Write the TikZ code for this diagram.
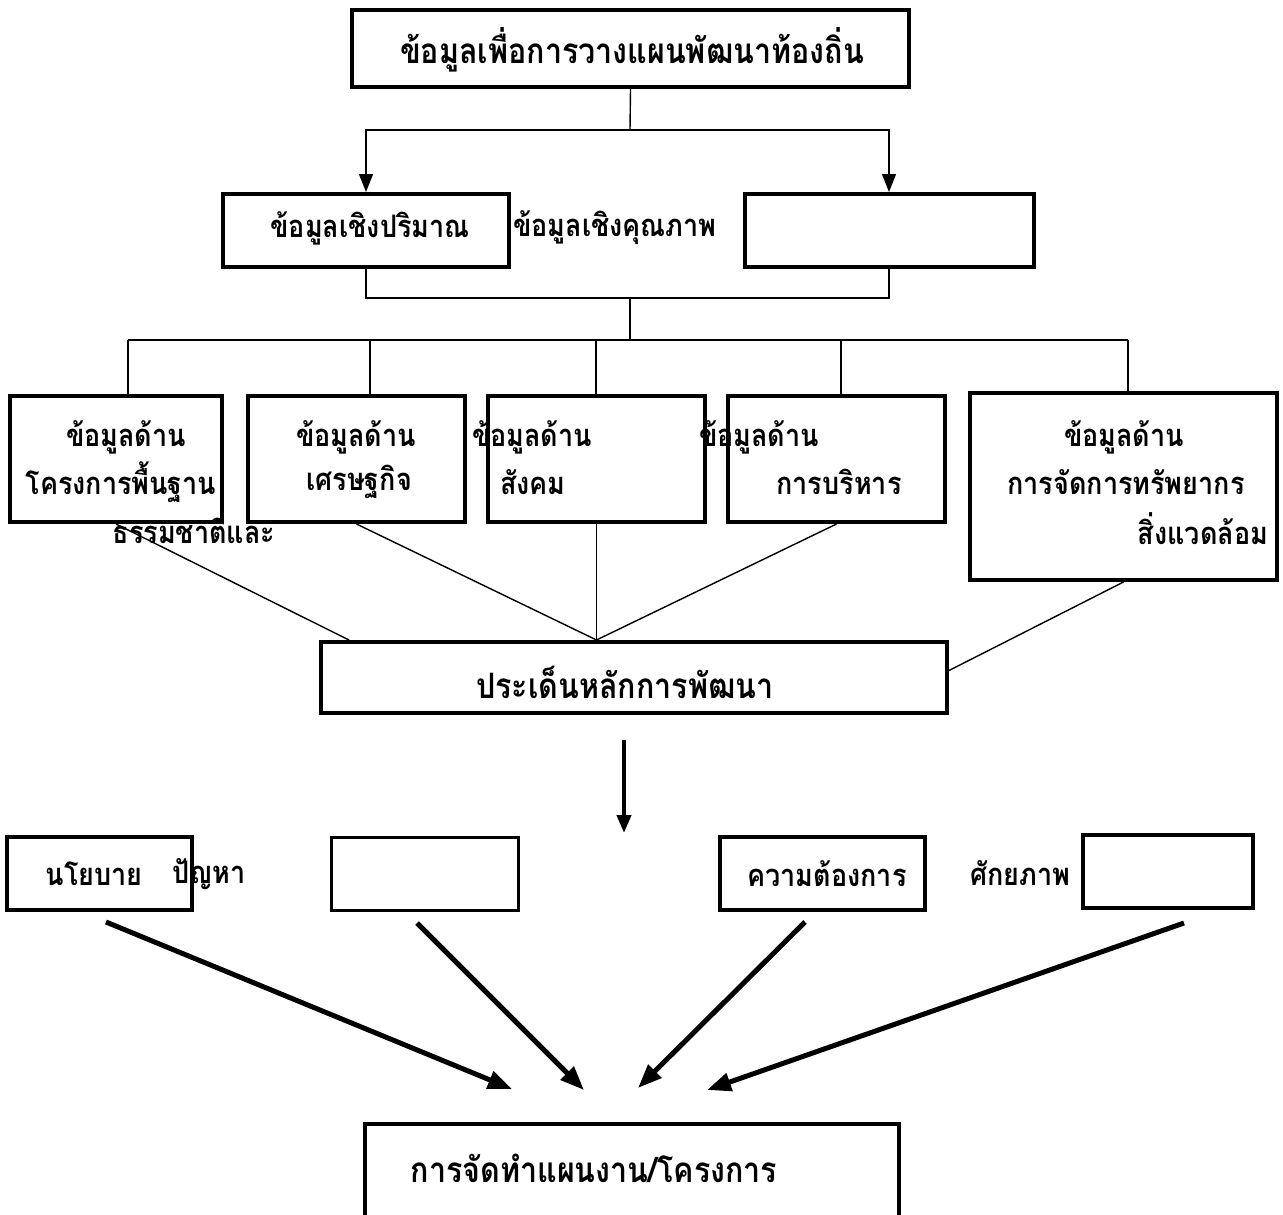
\documentclass[tikz,border=0pt]{standalone}
\usepackage{fontspec}
\newfontfamily\thaifont[Script=Thai, FakeStretch=0.87]{Loma}
\usetikzlibrary{arrows.meta}
\begin{document}
\begin{tikzpicture}[x=1pt,y=-1pt,
  box/.style={draw, line width=4pt, inner sep=0pt},
  thinline/.style={line width=1.4pt},
  thickarrow/.style={line width=5pt, -{Triangle[length=24pt,width=18pt]}},
  toparrow/.style={line width=1.4pt, -{Triangle[length=18pt,width=14pt]}},
  lbl/.style={font=\thaifont\bfseries\fontsize{31}{36}\selectfont, inner sep=0pt},
  biglbl/.style={font=\thaifont\bfseries\fontsize{35}{40}\selectfont, inner sep=0pt},
]
\useasboundingbox (0,0) rectangle (1283,1215);
\clip (0,0) rectangle (1283,1215);
\fill[white] (0,0) rectangle (1283,1215);

% boxes
\node[box, minimum width=557pt, minimum height=77pt] (top) at (630.5,48.5) {};
\node[box, minimum width=286pt, minimum height=73pt] (qn) at (366,230.5) {};
\node[box, minimum width=289pt, minimum height=73pt] (ql) at (889,230.5) {};
\node[box, minimum width=212pt, minimum height=126pt] (b1) at (116,459) {};
\node[box, minimum width=217pt, minimum height=126pt] (b2) at (356.5,459) {};
\node[box, minimum width=217pt, minimum height=126pt] (b3) at (596.5,459) {};
\node[box, minimum width=217pt, minimum height=126pt] (b4) at (836.5,459) {};
\node[box, minimum width=307pt, minimum height=187pt] (b5) at (1123.5,486.5) {};
\node[box, minimum width=626pt, minimum height=71pt] (mid) at (634,677.5) {};
\node[box, minimum width=185pt, minimum height=73pt] (pA) at (99.5,873.5) {};
\node[box, line width=3pt, minimum width=187pt, minimum height=73pt] (pB) at (424.5,873.5) {};
\node[box, minimum width=205pt, minimum height=73pt] (pC) at (822.5,873.5) {};
\node[box, minimum width=170pt, minimum height=73pt] (pD) at (1168,871.5) {};
\node[box, minimum width=534pt, minimum height=130pt, anchor=north west] (bot) at (363,1122) {};

% texts
\node[biglbl] (tTop) at (632,50) {ข้อมูลเพื่อการวางแผนพัฒนาท้องถิ่น};
\node[lbl] (tQn) at (370,228) {ข้อมูลเชิงปริมาณ};
\node[lbl] (tQl) at (615,228) {ข้อมูลเชิงคุณภาพ};
\node[lbl] (t1a) at (126,437) {ข้อมูลด้าน};
\node[lbl] (t1b) at (121,482) {โครงการพื้นฐาน};
\node[lbl] (t1c) at (194,531) {ธรรมชาติและ};
\node[lbl] (t2a) at (356,437) {ข้อมูลด้าน};
\node[lbl] (t2b) at (359,482) {เศรษฐกิจ};
\node[lbl] (t3a) at (532,437) {ข้อมูลด้าน};
\node[lbl] (t3b) at (533,482) {สังคม};
\node[lbl] (t4a) at (759,437) {ข้อมูลด้าน};
\node[lbl] (t4b) at (839,482) {การบริหาร};
\node[lbl] (t5a) at (1124,437) {ข้อมูลด้าน};
\node[lbl] (t5b) at (1126,482) {การจัดการทรัพยากร};
\node[lbl] (t5c) at (1203,529) {สิ่งแวดล้อม};
\node[biglbl] (tMid) at (625,682) {ประเด็นหลักการพัฒนา};
\node[lbl] (tA1) at (94,874) {นโยบาย};
\node[lbl] (tA2) at (209,874) {ปัญหา};
\node[lbl] (tC) at (827,874) {ความต้องการ};
\node[lbl] (tD) at (1020,873) {ศักยภาพ};
\node[biglbl] (tBot) at (594,1168) {การจัดทำแผนงาน/โครงการ};

% top connectors
\coordinate (j1) at (630,130);
\draw[thinline] (top.south) -- (j1);
\draw[toparrow] (j1) -| (qn.north);
\draw[toparrow] (j1) -| (ql.north);
\coordinate (j2) at (630,298);
\coordinate (j3) at (630,340);
\draw[thinline] (qn.south) |- (j2) -| (ql.south);
\draw[thinline] (j2) -- (j3);
\coordinate (d1) at (128,340);
\coordinate (d2) at (370,340);
\coordinate (d3) at (596,340);
\coordinate (d4) at (841,340);
\coordinate (d5) at (1128,340);
\draw[thinline] (d1) -- (d5);
\draw[thinline] (d1) -- (d1 |- b1.north);
\draw[thinline] (d2) -- (d2 |- b2.north);
\draw[thinline] (d3) -- (d3 |- b3.north);
\draw[thinline] (d4) -- (d4 |- b4.north);
\draw[thinline] (d5) -- (d5 |- b5.north);

% fan in to mid
\draw[thinline] (b1.south) -- (mid.north -| 349,0);
\draw[thinline] (b2.south) -- (mid.north -| b3.south);
\draw[thinline] (b3.south) -- (mid.north -| b3.south);
\draw[thinline] (b4.south) -- (mid.north -| b3.south);
\draw[thinline] (b5.south) -- ([yshift=7pt]mid.east);

% middle arrow
\coordinate (a0) at (624,740);
\coordinate (a1) at (624,833);
\draw[line width=4pt, -{Triangle[length=18pt,width=14pt]}] (a0) -- (a1);

% bottom arrows
\coordinate (s1) at (106,922);
\coordinate (e1) at (512,1089);
\coordinate (s2) at (417,923);
\coordinate (e2) at (584,1090);
\coordinate (s3) at (805,922);
\coordinate (e3) at (638,1088);
\coordinate (s4) at (1184,923);
\coordinate (e4) at (707,1090);
\draw[thickarrow] (s1) -- (e1);
\draw[thickarrow] (s2) -- (e2);
\draw[thickarrow] (s3) -- (e3);
\draw[thickarrow] (s4) -- (e4);
\end{tikzpicture}
\end{document}
